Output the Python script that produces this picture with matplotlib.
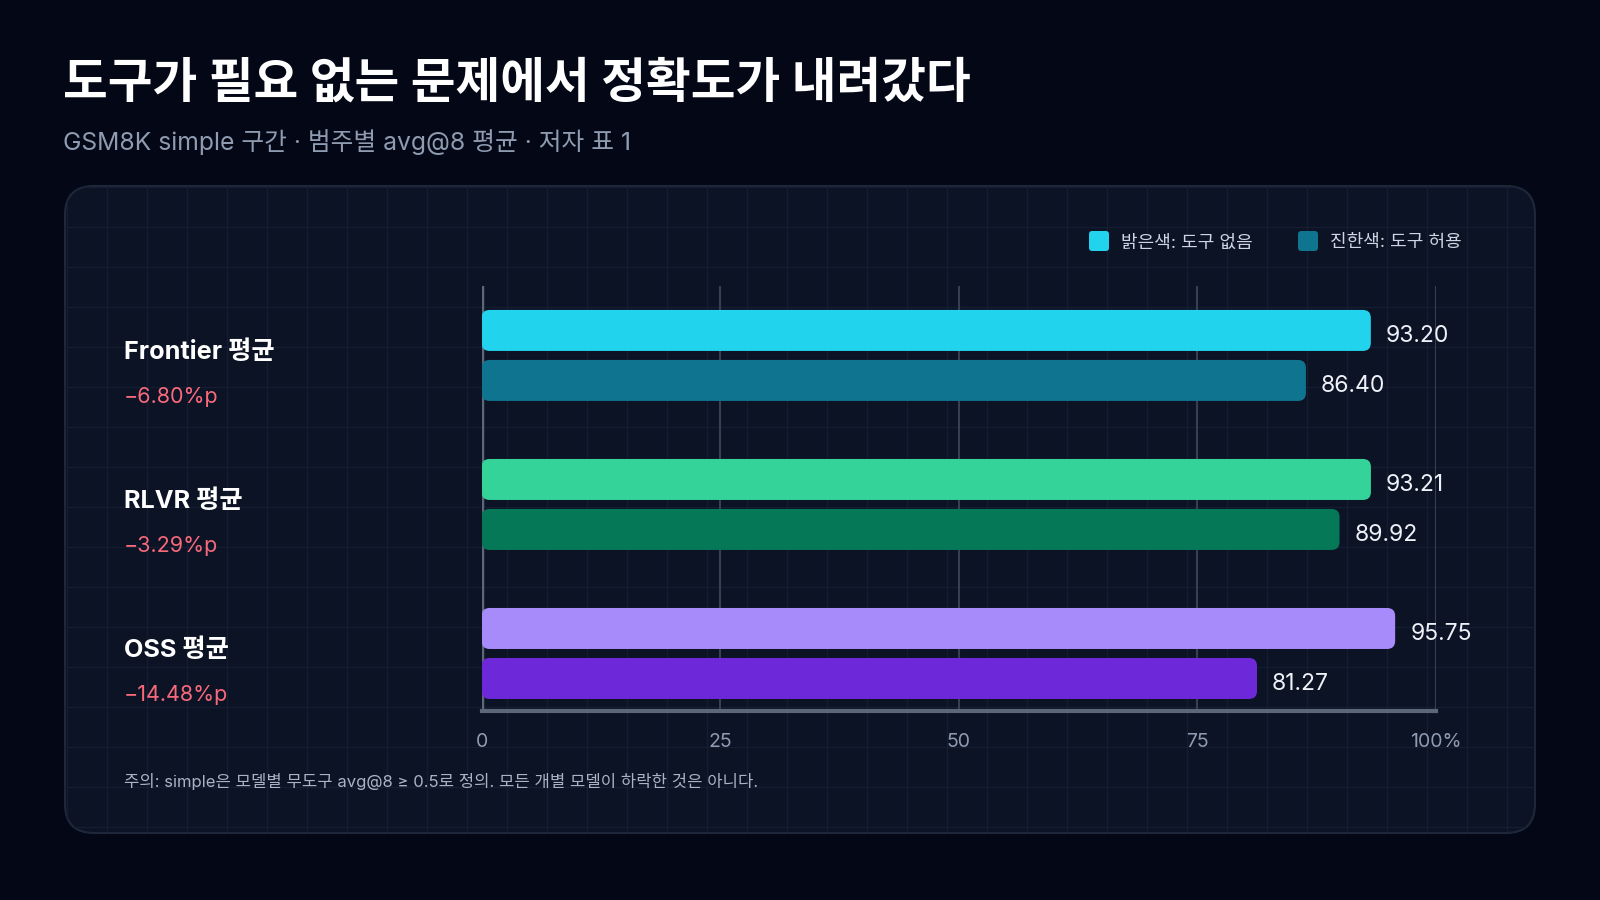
import matplotlib as mpl
mpl.use('Agg')
import matplotlib.pyplot as plt
from matplotlib.patches import FancyBboxPatch
from matplotlib.transforms import blended_transform_factory

plt.rcParams['font.family'] = ['Inter', 'Noto Sans CJK KR', 'DejaVu Sans']

# ---- data ----
categories = ["Frontier 평균", "RLVR 평균", "OSS 평균"]
no_tool = [93.20, 93.21, 95.75]
with_tool = [86.40, 89.92, 81.27]
deltas = ["\u22126.80%p", "\u22123.29%p", "\u221214.48%p"]
light_colors = ["#22d3ee", "#34d399", "#a78bfa"]
dark_colors = ["#0e7490", "#047857", "#6d28d9"]
xticks = [0, 25, 50, 75, 100]
xtick_labels = ["0", "25", "50", "75", "100%"]
legend_labels = ["밝은색: 도구 없음", "진한색: 도구 허용"]

title = "도구가 필요 없는 문제에서 정확도가 내려갔다"
subtitle = "GSM8K simple 구간 · 범주별 avg@8 평균 · 저자 표 1"
footnote = "주의: simple은 모델별 무도구 avg@8 ≥ 0.5로 정의. 모든 개별 모델이 하락한 것은 아니다."

BG = "#040816"
PANEL = "#0c1325"
W, H = 1600, 900

fig = plt.figure(figsize=(16, 9), dpi=100)
fig.patch.set_facecolor(BG)

# background axes in pixel coords (y down)
bg = fig.add_axes([0, 0, 1, 1])
bg.set_xlim(0, W)
bg.set_ylim(H, 0)
bg.axis('off')

panel = FancyBboxPatch((65, 186), 1470, 647,
                       boxstyle="round,pad=0,rounding_size=29",
                       facecolor=PANEL, edgecolor="#1f283a", linewidth=1.5, zorder=1)
bg.add_patch(panel)
# faint grid inside panel
gx = 67
while gx < 1535:
    ln = bg.plot([gx, gx], [186, 833], color="#151d30", lw=1, zorder=2)[0]
    ln.set_clip_path(panel)
    gx += 40
gy = 187
while gy < 833:
    ln = bg.plot([65, 1535], [gy, gy], color="#151d30", lw=1, zorder=2)[0]
    ln.set_clip_path(panel)
    gy += 40

bg.text(63, 85, title, fontsize=35, fontweight='bold', color="white",
        va='center', ha='left')
bg.text(63, 142, subtitle, fontsize=17.8, color="#8e9bb0", va='center', ha='left')
bg.text(123.5, 781, footnote, fontsize=12, color="#a9b3c3", va='center', ha='left')

# legend
leg_x = [1089, 1298]
for lx, lab, col in zip(leg_x, legend_labels, [light_colors[0], dark_colors[0]]):
    bg.add_patch(FancyBboxPatch((lx, 231), 20, 20, boxstyle="round,pad=0,rounding_size=3",
                                facecolor=col, edgecolor='none', zorder=3))
    bg.text(lx + 32, 243, lab, fontsize=13, color="#cfd6e2", va='center', ha='left')

# ---- bar axes ----
x0, x1 = 481.6, 1435.7
y_top, y_bot = 286, 711
ax = fig.add_axes([x0 / W, 1 - y_bot / H, (x1 - x0) / W, (y_bot - y_top) / H])
ax.set_facecolor('none')
ax.set_xlim(0, 100)
ax.set_ylim(2.386, -0.466)
for s in ax.spines.values():
    s.set_visible(False)
ax.set_yticks([])
ax.set_xticks(xticks)
ax.set_xticklabels(xtick_labels)
ax.tick_params(axis='x', length=0, pad=16, labelsize=14, labelcolor="#8e9bb0")

for t in xticks[1:]:
    ax.axvline(t, color="#364052", lw=1.5, zorder=1)
ax.axvline(0, color="#5d677a", lw=2.5, zorder=1)
ax.axhline(2.386, color="#5d677a", lw=3, zorder=1, clip_on=False)

bar_h = 41 / 149
off = 25 / 149
ypos = list(range(len(categories)))
bars_l = ax.barh([y - off for y in ypos], no_tool, height=bar_h, color=light_colors)
bars_d = ax.barh([y + off for y in ypos], with_tool, height=bar_h, color=dark_colors)

# swap rectangles for rounded ones
px_x = (x1 - x0) / 100.0
px_y = 149.0
r = 8 / px_x
for rect in list(bars_l) + list(bars_d):
    rb = FancyBboxPatch((rect.get_x(), rect.get_y()), rect.get_width(), rect.get_height(),
                        boxstyle=f"round,pad=0,rounding_size={r}",
                        mutation_aspect=px_x / px_y,
                        facecolor=rect.get_facecolor(), edgecolor='none', zorder=3)
    rect.set_visible(False)
    ax.add_patch(rb)

for y, a, b in zip(ypos, no_tool, with_tool):
    ax.annotate(f"{a:.2f}", (a, y - off), xytext=(10.8, -8.5), textcoords='offset points',
                va='baseline', ha='left', fontsize=16.5, color="#eef2f8")
    ax.annotate(f"{b:.2f}", (b, y + off), xytext=(10.8, -8.5), textcoords='offset points',
                va='baseline', ha='left', fontsize=16.5, color="#eef2f8")

tr = blended_transform_factory(ax.transAxes, ax.transData)
lx = (123.5 - x0) / (x1 - x0)
for y, cat, d in zip(ypos, categories, deltas):
    ax.text(lx, y - 0.02, cat, transform=tr, fontsize=18.2, fontweight='bold',
            color="white", va='center', ha='left')
    ax.text(lx, y + 0.28, d, transform=tr, fontsize=15.5,
            color="#f8697c", va='center', ha='left')

fig.savefig('out.png', dpi=100, facecolor=BG)
